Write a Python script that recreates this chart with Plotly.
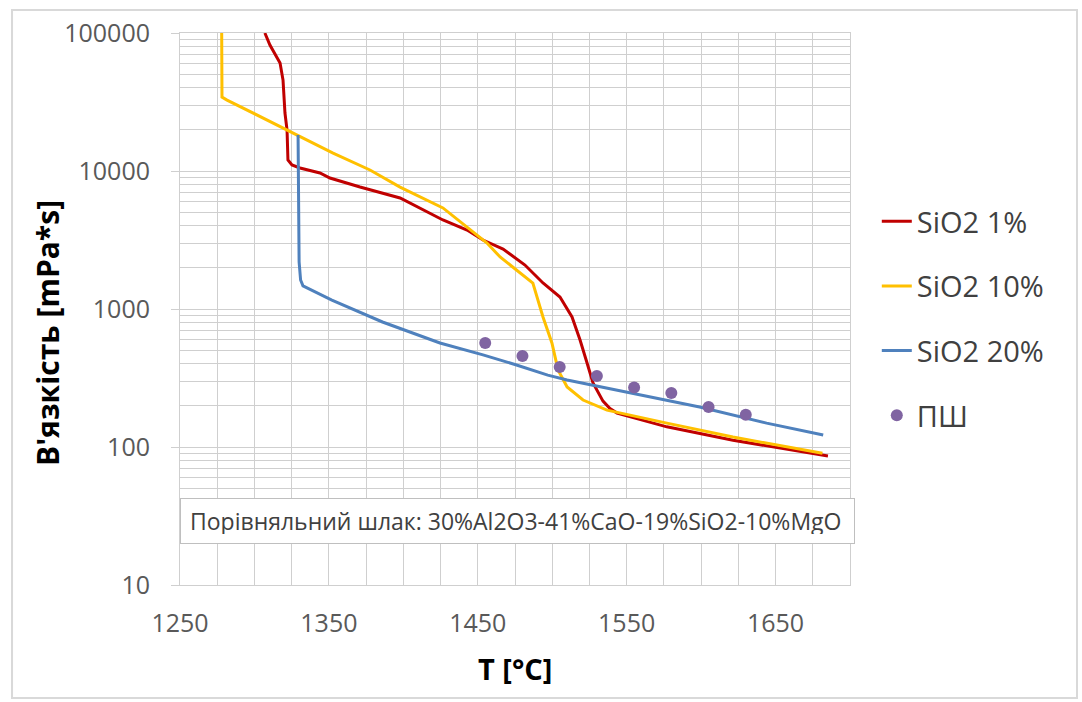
import plotly.graph_objects as go

# Viscosity curves vs temperature for three SiO2 contents
t_sio2_1 = [1307, 1310.4, 1317.2, 1319.2, 1320.5, 1321.9, 1322.5, 1325.2, 1330.6, 1344, 1350.7,
            1370.9, 1397.8, 1426.6, 1442.8, 1453.5, 1467, 1481.7, 1493.8, 1505.2, 1513.3,
            1518.7, 1523.4, 1527.4, 1534.1, 1538.8, 1543.5, 1577, 1621.4, 1685.2]
v_sio2_1 = [100000, 81900, 60650, 45600, 26300, 19820, 12020, 11050, 10510, 9680, 8900,
            7650, 6370, 4415, 3730, 3160, 2720, 2083, 1543, 1222, 875,
            596, 406, 291, 215, 190, 176, 140, 112, 86]

t_sio2_10 = [1278, 1278.2, 1281.6, 1321.9, 1352.8, 1377.6, 1397.8, 1426.6, 1442.8, 1456.2,
             1465, 1487, 1493.8, 1499.8, 1503.9, 1510, 1520.7, 1536.8, 1577, 1621.4, 1681.5]
v_sio2_10 = [100000, 34350, 32650, 19820, 13490, 10170, 7650, 5400, 3930, 3006,
             2381, 1543, 875, 567, 362, 272, 219, 185, 149, 118, 90]

t_sio2_20 = [1329.3, 1330, 1331, 1332.6, 1352, 1386, 1424.6, 1453.5, 1476, 1497, 1510,
             1554, 1599, 1644, 1682]
v_sio2_20 = [18240, 2193, 1622, 1470, 1161, 805, 567, 465, 393, 332, 306,
             246, 195, 149, 122]

# Reference slag measurements (ПШ)
t_ref = [1455, 1480, 1505, 1530, 1555, 1580, 1605, 1630]
v_ref = [567, 456, 380, 327, 270, 246, 195, 171]

x_ticks = [1250, 1350, 1450, 1550, 1650]
y_ticks = [10, 100, 1000, 10000, 100000]
y_minor = [m * 10 ** d for d in range(1, 5) for m in range(2, 10)]

FONT = "Open Sans"
GRID = "#cfcfcf"

fig = go.Figure()
fig.add_trace(go.Scatter(x=t_sio2_1, y=v_sio2_1, mode="lines", name="SiO2 1%",
                         legendgroup="a", line=dict(color="#C00000", width=3)))
fig.add_trace(go.Scatter(x=t_sio2_10, y=v_sio2_10, mode="lines", name="SiO2 10%",
                         legendgroup="b", line=dict(color="#FFC000", width=3)))
fig.add_trace(go.Scatter(x=t_sio2_20, y=v_sio2_20, mode="lines", name="SiO2 20%",
                         legendgroup="c", line=dict(color="#4F81BD", width=3)))
fig.add_trace(go.Scatter(x=t_ref, y=v_ref, mode="markers", name="ПШ",
                         legendgroup="d", marker=dict(color="#8064A2", size=12)))

fig.update_layout(
    width=1082, height=702,
    margin=dict(l=180, r=232, t=33, b=117),
    paper_bgcolor="white", plot_bgcolor="white",
    font=dict(family=FONT, size=25, color="#595959"),
    showlegend=True,
    legend=dict(x=1.04, y=0.705, xanchor="left", yanchor="top",
                traceorder="grouped", tracegroupgap=24,
                font=dict(family=FONT, size=29, color="#404040"),
                bgcolor="rgba(0,0,0,0)"),
    xaxis=dict(range=[1250, 1700], tickmode="array", tickvals=x_ticks,
               ticktext=[str(v) for v in x_ticks],
               showgrid=True, gridcolor=GRID, gridwidth=1,
               minor=dict(tick0=1250, dtick=25, showgrid=True, gridcolor=GRID, gridwidth=1),
               showline=True, linecolor=GRID, mirror=True, ticks="",
               ticklabelstandoff=16, zeroline=False),
    yaxis=dict(type="log", range=[1, 5], tickmode="array", tickvals=y_ticks,
               ticktext=[str(v) for v in y_ticks],
               showgrid=True, gridcolor=GRID, gridwidth=1,
               minor=dict(tickmode="array", tickvals=y_minor, showgrid=True,
                          gridcolor=GRID, gridwidth=1, ticks=""),
               showline=True, linecolor=GRID, mirror=True,
               ticks="outside", ticklen=8, tickcolor=GRID,
               ticklabelstandoff=16, zeroline=False),
    annotations=[
        dict(text="Порівняльний шлак: 30%Al2O3-41%CaO-19%SiO2-10%MgO",
             xref="paper", yref="paper", x=0.0, y=0.1159, xanchor="left", yanchor="middle",
             showarrow=False, align="left", width=655, height=26, borderpad=9,
             bgcolor="white", bordercolor="#bfbfbf", borderwidth=1,
             font=dict(family=FONT, size=23, color="#404040")),
        dict(text="<b>В'язкість [mPa*s]</b>", xref="paper", yref="paper",
             x=-0.1985, y=0.4565, xanchor="center", yanchor="middle", textangle=-90,
             showarrow=False, font=dict(family=FONT, size=30, color="#000000")),
        dict(text="<b>T [°C]</b>", xref="paper", yref="paper",
             x=0.5, y=-0.152, xanchor="center", yanchor="middle",
             showarrow=False, font=dict(family=FONT, size=29, color="#000000")),
    ],
    shapes=[dict(type="rect", xref="paper", yref="paper",
                 x0=-0.2507, x1=1.3388, y0=-0.2047, y1=1.0417,
                 line=dict(color="#d9d9d9", width=2), fillcolor="rgba(0,0,0,0)", layer="below")],
)

fig.write_html("out.html")
